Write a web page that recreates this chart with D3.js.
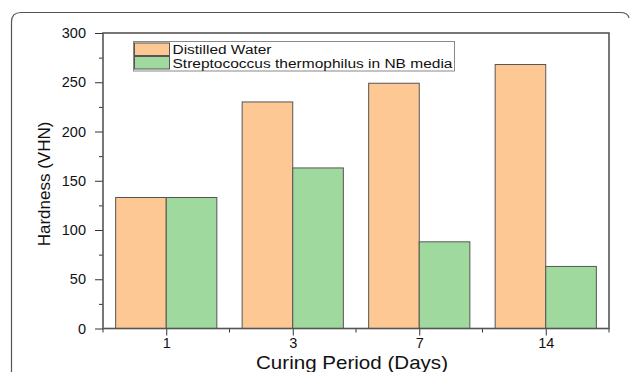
<!DOCTYPE html>
<html lang="en">
<head>
  <meta charset="UTF-8">
  <title>Hardness vs curing period</title>
  <script src="https://d3js.org/d3.v7.min.js"></script>
  <style>
    body { margin: 0; background: #fff; font-family: "Liberation Sans", Arial, sans-serif; }
    .axis path, .axis line { stroke: #333; }
    .axis text { font-size: 14.5px; fill: #111; font-family: "Liberation Sans", Arial, sans-serif; }
  </style>
</head>
<body>
  <svg id="chart" width="630" height="372"></svg>
  <script>
    // Data
    const categories = ["1", "3", "7", "14"];
    const seriesNames = ["Distilled Water", "Streptococcus thermophilus in NB media"];
    const distilledWater = [133, 230, 249, 268];
    const streptococcus = [133, 163, 88, 63];
    const yTicks = [0, 50, 100, 150, 200, 250, 300];
    const colors = ["#fdc894", "#a0d99e"];
    const legendWidths = [99, 280];

    const svg = d3.select("#chart");
    const plotL = 103, plotR = 609, plotT = 33, plotB = 328.5;

    // outer rounded frame
    svg.append("path")
      .attr("d", "M11.5,380 L11.5,22 Q11.5,12.5 21,12.5 L620,12.5 Q628,12.5 629,18")
      .attr("fill", "none").attr("stroke", "#555").attr("stroke-width", 1.2);

    const x = d3.scaleBand().domain(categories).range([plotL, plotR])
      .paddingInner(0.2).paddingOuter(0.1);
    const xSub = d3.scaleBand().domain([0, 1]).range([0, x.bandwidth()]);
    const y = d3.scaleLinear().domain([0, 300]).range([plotB, plotT]);

    // bars
    const groups = svg.selectAll(".grp").data(categories).enter().append("g")
      .attr("transform", d => `translate(${x(d)},0)`);
    groups.selectAll("rect")
      .data((d, i) => [distilledWater[i], streptococcus[i]])
      .enter().append("rect")
      .attr("x", (d, j) => xSub(j))
      .attr("y", d => y(d))
      .attr("width", xSub.bandwidth())
      .attr("height", d => y(0) - y(d))
      .attr("fill", (d, j) => colors[j])
      .attr("stroke", "#555").attr("stroke-width", 1);

    // y axis: major and minor ticks
    svg.append("g").attr("class", "axis")
      .attr("transform", `translate(${plotL},0)`)
      .call(d3.axisLeft(y).tickValues(d3.range(25, 300, 50)).tickSize(4).tickFormat(""))
      .call(g => g.select(".domain").remove());
    svg.append("g").attr("class", "axis")
      .attr("transform", `translate(${plotL},0)`)
      .call(d3.axisLeft(y).tickValues(yTicks).tickSize(8).tickPadding(9))
      .call(g => g.select(".domain").remove());

    // x axis: ticks at category centres, minor ticks at band borders
    const borders = categories.map(c => x(c) - x.step() * x.paddingInner() / 2);
    borders.push(plotR);
    svg.append("g").attr("class", "axis")
      .selectAll("line").data(borders).enter().append("line")
      .attr("x1", d => d).attr("x2", d => d)
      .attr("y1", plotB).attr("y2", plotB + 4);
    const xc = d3.scalePoint().domain(categories)
      .range([x(categories[0]) + x.bandwidth() / 2, x(categories[3]) + x.bandwidth() / 2]);
    svg.append("g").attr("class", "axis")
      .attr("transform", `translate(0,${plotB})`)
      .call(d3.axisBottom(xc).tickSize(7).tickPadding(2))
      .call(g => g.select(".domain").remove())
      .selectAll("text").attr("font-size", 13.5);

    // plot box
    svg.append("rect")
      .attr("x", plotL).attr("y", plotT)
      .attr("width", plotR - plotL).attr("height", plotB - plotT)
      .attr("fill", "none").attr("stroke", "#555").attr("stroke-width", 1.6);

    // axis titles
    svg.append("text")
      .attr("x", 352).attr("y", 369)
      .attr("text-anchor", "middle").attr("font-size", 18.5).attr("fill", "#111")
      .attr("textLength", 192).attr("lengthAdjust", "spacingAndGlyphs")
      .text("Curing Period (Days)");
    svg.append("text")
      .attr("transform", "translate(50,184) rotate(-90)")
      .attr("text-anchor", "middle").attr("font-size", 17).attr("fill", "#111")
      .text("Hardness (VHN)");

    // legend
    const lg = svg.append("g").attr("transform", "translate(133.5,41.5)");
    lg.append("rect").attr("width", 321).attr("height", 29.5)
      .attr("fill", "#fff").attr("stroke", "#888").attr("stroke-width", 1);
    seriesNames.forEach((name, i) => {
      lg.append("rect").attr("x", 1).attr("y", 1.5 + i * 13.5)
        .attr("width", 35).attr("height", 12.5)
        .attr("fill", colors[i]).attr("stroke", "#555");
      lg.append("text").attr("x", 39).attr("y", 12.5 + i * 13.5)
        .attr("font-size", 12.5).attr("fill", "#111")
        .attr("textLength", legendWidths[i]).attr("lengthAdjust", "spacingAndGlyphs")
        .text(name);
    });
  </script>
</body>
</html>
